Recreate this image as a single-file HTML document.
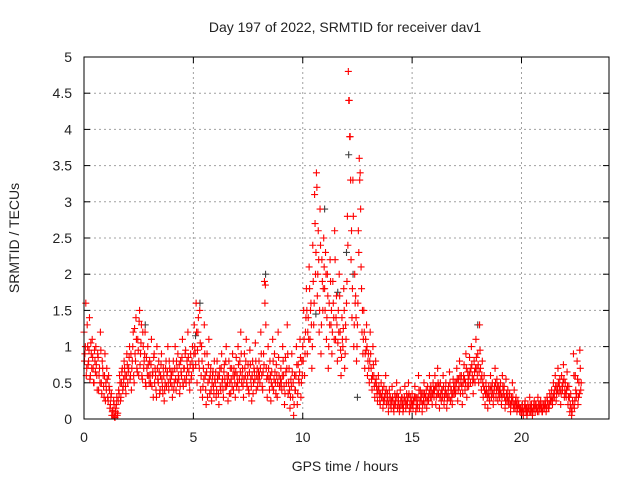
<!DOCTYPE html>
<html><head><meta charset="utf-8"><style>
body{margin:0;background:#fff}
svg{display:block;font-family:"Liberation Sans",sans-serif}
</style></head><body>
<svg id="chart" width="640" height="480" viewBox="0 0 640 480" xmlns="http://www.w3.org/2000/svg">
<rect width="640" height="480" fill="#fff"/>
<g id="grid"></g>
<g id="ticks"></g>
<g id="gray"></g>
<g id="red"></g>
<rect x="84" y="57" width="525" height="362" fill="none" stroke="#000" stroke-width="1"/>
<text x="345" y="32" font-size="14" text-anchor="middle" fill="#222">Day 197 of 2022, SRMTID for receiver dav1</text>
<text x="19" y="238" font-size="14" text-anchor="middle" fill="#222" transform="rotate(-90 19 238)">SRMTID / TECUs</text>
<text x="345" y="471" font-size="14" text-anchor="middle" fill="#222">GPS time / hours</text>
</svg>
<script>
const xTicks=[0,5,10,15,20];
const yTicks=[0,0.5,1,1.5,2,2.5,3,3.5,4,4.5,5];
const yTickLabels=["0","0.5","1","1.5","2","2.5","3","3.5","4","4.5","5"];
const samplesPerHour=24;
const hourly=[
[1.2,0.9,1.6,0.7,1.0,0.8,1.4,0.6,0.9,1.1,0.7,0.5,0.8,1.0,0.6,0.9,0.4,0.7,1.2,0.5,0.8,0.6,0.3,0.9],
[0.5,0.7,0.3,0.6,0.4,0.2,0.35,0.1,0.05,0.2,0.02,0.15,0.3,0.08,0.4,0.6,0.25,0.5,0.7,0.45,0.8,0.6,0.35,0.9],
[0.5,0.7,1.0,0.6,0.4,0.8,1.2,0.5,0.9,1.4,0.7,1.1,0.6,1.5,0.9,1.3,0.55,1.0,0.8,1.2,0.45,0.7,1.0,0.6],
[0.8,0.5,1.1,0.6,0.3,0.9,0.7,0.4,1.0,0.55,0.8,0.35,0.6,0.9,0.45,0.7,0.25,0.5,0.8,0.6,1.0,0.4,0.7,0.5],
[0.6,0.3,0.8,0.5,1.0,0.4,0.7,0.9,0.55,0.35,0.8,0.6,1.1,0.45,0.7,0.9,0.5,0.8,1.2,0.65,0.4,0.9,0.6,1.0],
[0.7,1.3,0.9,1.6,0.5,1.2,0.8,1.5,0.4,1.0,0.3,0.7,1.3,0.6,0.2,0.9,0.5,1.1,0.35,0.7,0.25,0.6,0.45,0.8],
[0.5,0.3,0.8,0.6,0.2,0.7,0.4,0.9,0.55,0.3,0.75,0.45,1.0,0.6,0.25,0.8,0.5,0.35,0.7,0.9,0.4,0.6,0.3,0.85],
[0.6,1.0,0.4,0.8,1.2,0.5,0.7,0.3,0.9,0.6,1.1,0.45,0.75,0.35,0.95,0.55,0.25,0.8,0.5,0.65,1.05,0.4,0.7,0.55],
[0.8,0.5,1.2,0.6,0.4,0.9,1.9,1.85,0.7,0.3,1.0,0.55,0.8,0.25,0.65,1.1,0.4,0.9,0.5,0.75,0.3,1.2,0.6,0.45],
[0.7,0.4,1.0,0.6,0.2,0.85,0.5,1.3,0.35,0.7,0.15,0.55,0.9,0.3,0.05,0.6,0.4,1.0,0.2,0.75,0.5,1.1,0.3,0.8],
[1.0,1.5,0.6,1.2,1.8,0.9,1.4,2.1,1.1,1.6,0.7,2.4,1.3,3.1,2.0,3.4,1.7,2.6,1.2,2.9,0.9,2.2,1.5,2.5],
[1.8,2.3,1.1,2.0,0.7,1.6,2.2,1.3,0.9,1.9,1.4,2.6,1.1,1.7,0.8,1.5,2.0,1.2,0.6,1.4,1.0,1.8,0.7,1.3],
[1.6,2.8,4.8,4.4,3.9,2.2,1.4,3.3,1.0,2.0,1.7,0.8,1.3,2.6,3.6,3.4,2.1,1.2,0.9,1.5,0.7,1.1,1.3,0.6],
[0.9,0.5,1.2,0.7,0.4,1.0,0.6,0.3,0.8,0.45,0.25,0.6,0.35,0.2,0.5,0.3,0.15,0.45,0.25,0.6,0.2,0.35,0.1,0.4],
[0.3,0.15,0.45,0.25,0.1,0.35,0.2,0.5,0.15,0.3,0.1,0.4,0.2,0.3,0.1,0.25,0.45,0.15,0.35,0.2,0.5,0.1,0.3,0.2],
[0.35,0.15,0.25,0.45,0.1,0.3,0.2,0.6,0.15,0.4,0.25,0.1,0.35,0.5,0.2,0.3,0.15,0.45,0.25,0.6,0.3,0.4,0.2,0.5],
[0.3,0.6,0.2,0.45,0.7,0.35,0.15,0.5,0.25,0.4,0.6,0.2,0.35,0.5,0.15,0.3,0.45,0.65,0.25,0.4,0.2,0.55,0.35,0.5],
[0.4,0.7,0.25,0.55,0.8,0.35,0.6,0.2,0.5,0.75,0.4,0.9,0.3,0.65,0.45,0.85,0.5,1.0,0.6,0.35,0.8,0.5,1.1,0.7],
[0.9,0.5,1.3,0.7,0.4,0.8,0.3,0.6,0.2,0.5,0.35,0.15,0.45,0.25,0.6,0.3,0.5,0.2,0.4,0.7,0.3,0.55,0.25,0.45],
[0.3,0.5,0.2,0.6,0.35,0.45,0.15,0.55,0.25,0.4,0.2,0.35,0.1,0.3,0.5,0.2,0.4,0.15,0.3,0.1,0.25,0.2,0.1,0.15],
[0.1,0.2,0.05,0.15,0.25,0.1,0.05,0.2,0.15,0.3,0.1,0.2,0.05,0.15,0.25,0.1,0.2,0.15,0.3,0.1,0.2,0.25,0.15,0.1],
[0.2,0.15,0.25,0.1,0.3,0.2,0.15,0.35,0.25,0.4,0.2,0.5,0.3,0.6,0.25,0.45,0.7,0.35,0.55,0.2,0.6,0.4,0.75,0.3],
[0.5,0.3,0.65,0.2,0.45,0.1,0.35,0.05,0.25,0.9,0.15,0.6,0.3,0.8,0.2,0.5,0.95,0.4]
];
const hourlyB=[
[0.8,1.0,0.6,1.3,0.75,0.95,0.55,1.05,0.7,0.85,0.5,0.95,0.65,0.75,0.4,0.85,0.6,0.5,0.95,0.35,0.7,0.45,0.6,0.25],
[0.4,0.55,0.25,0.45,0.15,0.3,0.05,0.12,0.25,0.03,0.1,0.2,0.05,0.25,0.35,0.5,0.3,0.65,0.4,0.55,0.7,0.45,0.6,0.75],
[0.65,0.85,0.55,0.9,0.7,1.0,0.6,1.25,0.8,1.1,0.65,0.95,1.35,0.75,1.05,0.6,1.2,0.7,0.9,0.5,0.85,0.6,0.75,0.5],
[0.6,0.75,0.45,0.65,0.85,0.5,0.6,0.3,0.7,0.5,0.65,0.4,0.75,0.55,0.35,0.6,0.4,0.7,0.45,0.65,0.5,0.8,0.55,0.65],
[0.45,0.65,0.4,0.7,0.55,0.8,0.5,0.6,0.75,0.45,0.65,0.85,0.5,0.7,0.55,0.95,0.6,0.7,0.85,0.5,0.75,0.55,0.8,0.7],
[0.9,1.0,0.75,1.2,0.95,1.4,0.7,1.05,0.6,0.8,0.45,0.55,0.9,0.4,0.65,0.3,0.75,0.55,0.6,0.4,0.5,0.65,0.35,0.55],
[0.65,0.4,0.55,0.35,0.6,0.45,0.7,0.5,0.4,0.65,0.55,0.8,0.45,0.5,0.6,0.35,0.7,0.55,0.45,0.6,0.7,0.5,0.65,0.45],
[0.5,0.75,0.55,0.65,0.9,0.6,0.45,0.55,0.7,0.8,0.5,0.6,0.4,0.65,0.75,0.45,0.6,0.35,0.7,0.55,0.8,0.6,0.45,0.65],
[0.6,0.7,0.9,0.45,0.65,0.75,1.6,1.3,0.55,0.6,0.7,0.4,0.6,0.5,0.45,0.8,0.55,0.65,0.35,0.6,0.5,0.85,0.45,0.55],
[0.5,0.6,0.8,0.45,0.35,0.65,0.7,0.9,0.5,0.4,0.3,0.45,0.65,0.5,0.2,0.4,0.6,0.75,0.35,0.55,0.65,0.85,0.5,0.6],
[0.8,1.1,0.9,1.4,1.5,1.2,1.1,1.8,1.5,1.3,1.0,1.9,1.6,2.7,2.3,3.2,2.0,2.2,1.5,2.4,1.3,1.9,1.8,2.1],
[1.5,2.0,1.4,1.7,1.0,1.3,1.9,1.5,1.2,1.6,1.1,2.2,1.4,1.3,1.05,1.2,1.7,0.95,0.85,1.1,1.25,1.5,0.9,1.1],
[1.9,2.4,4.4,3.9,3.3,2.6,1.8,2.8,1.3,1.6,1.4,1.0,1.6,2.3,3.3,2.9,1.8,1.5,1.1,1.2,0.9,0.95,1.0,0.8],
[0.7,0.8,0.9,0.55,0.6,0.75,0.45,0.5,0.55,0.35,0.4,0.45,0.25,0.35,0.3,0.4,0.25,0.3,0.35,0.4,0.3,0.25,0.2,0.3],
[0.2,0.25,0.3,0.15,0.2,0.25,0.3,0.35,0.25,0.2,0.15,0.25,0.3,0.2,0.15,0.3,0.25,0.2,0.25,0.3,0.35,0.2,0.15,0.25],
[0.2,0.25,0.3,0.3,0.2,0.15,0.3,0.4,0.25,0.3,0.35,0.2,0.25,0.35,0.3,0.4,0.25,0.3,0.35,0.4,0.45,0.3,0.35,0.4],
[0.4,0.45,0.3,0.35,0.5,0.45,0.3,0.35,0.4,0.3,0.45,0.3,0.4,0.35,0.25,0.4,0.3,0.5,0.4,0.3,0.35,0.45,0.4,0.35],
[0.5,0.55,0.4,0.45,0.6,0.5,0.45,0.35,0.6,0.55,0.5,0.7,0.45,0.55,0.6,0.65,0.7,0.75,0.5,0.55,0.65,0.7,0.85,0.6],
[0.75,0.65,0.95,0.55,0.6,0.5,0.45,0.4,0.35,0.4,0.3,0.35,0.3,0.4,0.45,0.4,0.35,0.3,0.45,0.5,0.4,0.45,0.35,0.4],
[0.4,0.35,0.3,0.45,0.4,0.3,0.25,0.35,0.3,0.25,0.3,0.2,0.2,0.25,0.3,0.15,0.2,0.25,0.2,0.15,0.2,0.15,0.15,0.1],
[0.15,0.1,0.1,0.2,0.15,0.15,0.1,0.15,0.1,0.2,0.15,0.1,0.1,0.2,0.15,0.2,0.15,0.1,0.2,0.15,0.15,0.2,0.1,0.2],
[0.15,0.2,0.2,0.15,0.25,0.15,0.2,0.25,0.3,0.25,0.3,0.35,0.4,0.45,0.35,0.4,0.5,0.45,0.4,0.35,0.45,0.5,0.55,0.4],
[0.35,0.4,0.45,0.3,0.3,0.2,0.15,0.1,0.2,0.6,0.25,0.4,0.35,0.55,0.3,0.35,0.7,0.5]
];
const grayT=[8.3,12.1,11.0,18.0,12.0,5.3,10.6,12.3,2.8,12.5,11.6,5.1];
const grayV=[2.0,3.65,2.9,1.3,2.3,1.6,1.45,2.0,1.3,0.3,1.75,1.15];

const X0=84,X1=609,Y0=419,Y1=57,XMAX=24,YMAX=5;
const xs=t=>X0+(X1-X0)*t/XMAX;
const ys=v=>Y0-(Y0-Y1)*v/YMAX;
const NS="http://www.w3.org/2000/svg";
function mk(tag,attrs,parent){const e=document.createElementNS(NS,tag);for(const k in attrs)e.setAttribute(k,attrs[k]);parent.appendChild(e);return e;}
const grid=document.getElementById('grid'),ticks=document.getElementById('ticks');
xTicks.forEach((t,i)=>{
  const x=xs(t);
  if(t>0){const g=mk('line',{x1:x,y1:Y1,x2:x,y2:Y0,stroke:'#a0a0a0','stroke-dasharray':'2,3'},grid);
  
  }
  mk('line',{x1:x,y1:Y0,x2:x,y2:Y0-6,stroke:'#000'},ticks);
  mk('line',{x1:x,y1:Y1,x2:x,y2:Y1+6,stroke:'#000'},ticks);
  const l=mk('text',{x:x,y:Y0+23,'font-size':14,'text-anchor':'middle',fill:'#222'},ticks);
  l.textContent=String(t);
  
  
});
yTicks.forEach((v,i)=>{
  const y=ys(v);
  if(v>0&&v<5){const g=mk('line',{x1:X0,y1:y,x2:X1,y2:y,stroke:'#a0a0a0','stroke-dasharray':'2,3'},grid);
  
  }
  mk('line',{x1:X0,y1:y,x2:X0+6,y2:y,stroke:'#000'},ticks);
  mk('line',{x1:X1,y1:y,x2:X1-6,y2:y,stroke:'#000'},ticks);
  const l=mk('text',{x:X0-12,y:y+5,'font-size':14,'text-anchor':'end',fill:'#222'},ticks);
  l.textContent=yTickLabels[i];
  
  
});
function plus(parent,t,v,col){
  const x=xs(t),y=ys(v);
  const p=mk('path',{d:`M${x-3.5},${y}H${x+3.5}M${x},${y-3.5}V${y+3.5}`,stroke:col,'stroke-width':1.1,fill:'none'},parent);
  
  
}
const gray=document.getElementById('gray'),red=document.getElementById('red');
grayT.forEach((t,i)=>plus(gray,t,grayV[i],'#404040'));
hourly.forEach((arr,h)=>arr.forEach((v,i)=>plus(red,h+i/samplesPerHour,v,'#ff0000')));
hourlyB.forEach((arr,h)=>arr.forEach((v,i)=>plus(red,h+(i+0.5)/samplesPerHour,v,'#ff0000')));
</script>
</body></html>
